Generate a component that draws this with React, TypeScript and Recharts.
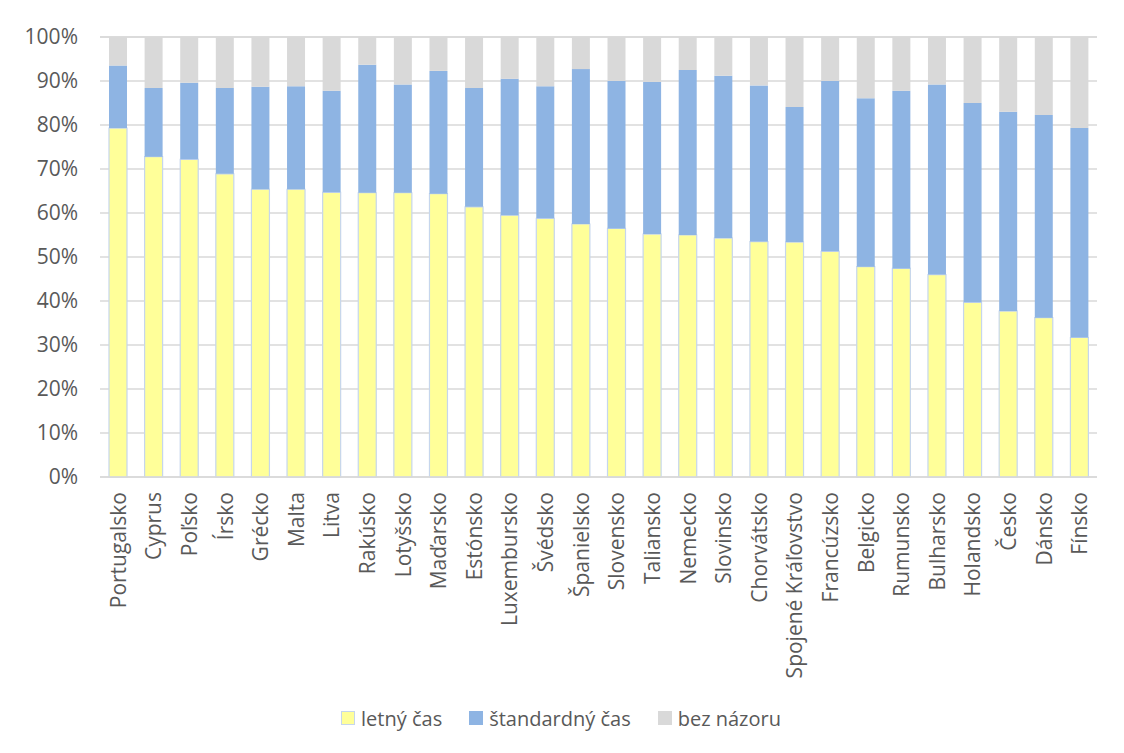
import React from "react";
import { BarChart, Bar, XAxis, YAxis, CartesianGrid, Legend } from "recharts";

// Countries, ordered by share preferring summer time
const countries = [
  "Portugalsko", "Cyprus", "Poľsko", "Írsko", "Grécko", "Malta", "Litva",
  "Rakúsko", "Lotyšsko", "Maďarsko", "Estónsko", "Luxembursko", "Švédsko",
  "Španielsko", "Slovensko", "Taliansko", "Nemecko", "Slovinsko", "Chorvátsko",
  "Spojené Kráľovstvo", "Francúzsko", "Belgicko", "Rumunsko", "Bulharsko",
  "Holandsko", "Česko", "Dánsko", "Fínsko",
];

// Shares in percent
const letnyCas = [
  79.3, 72.8, 72.2, 68.9, 65.4, 65.4, 64.7, 64.6, 64.6, 64.4, 61.4, 59.5, 58.8,
  57.5, 56.5, 55.2, 55.0, 54.3, 53.5, 53.4, 51.3, 47.8, 47.4, 46.0, 39.7, 37.7,
  36.2, 31.7,
];
const standardnyCas = [
  14.2, 15.6, 17.4, 19.5, 23.3, 23.4, 23.1, 29.1, 24.6, 27.9, 27.0, 31.0, 30.0,
  35.2, 33.5, 34.6, 37.5, 36.9, 35.5, 30.7, 38.7, 38.3, 40.4, 43.2, 45.3, 45.3,
  46.1, 47.6,
];
const bezNazoru = [
  6.5, 11.6, 10.4, 11.6, 11.3, 11.2, 12.2, 6.3, 10.8, 7.7, 11.6, 9.5, 11.2,
  7.3, 10.0, 10.2, 7.5, 8.8, 11.0, 15.9, 10.0, 13.9, 12.2, 10.8, 15.0, 17.0,
  17.7, 20.7,
];

const seriesNames = ["letný čas", "štandardný čas", "bez názoru"];
const yTicks = [0, 10, 20, 30, 40, 50, 60, 70, 80, 90, 100];

const data = countries.map((krajina, i) => ({
  krajina,
  letny: letnyCas[i],
  standardny: standardnyCas[i],
  bez: bezNazoru[i],
}));

const FONT = "'Open Sans', 'Noto Sans', sans-serif";
const TEXT = "#595959";
const GRID = "#d9d9d9";
const FS = 21;

const CountryTick = (props: any) => {
  const { x, y, payload } = props;
  return (
    <text
      x={x}
      y={y}
      transform={`rotate(-90, ${x}, ${y})`}
      textAnchor="end"
      dominantBaseline="central"
      fill={TEXT}
      fontSize={FS}
      fontFamily={FONT}
    >
      {payload.value}
    </text>
  );
};

const LegendContent = (props: any) => {
  const items = [...(props.payload || [])].sort(
    (a: any, b: any) => seriesNames.indexOf(a.value) - seriesNames.indexOf(b.value)
  );
  return (
    <div
      style={{
        display: "flex",
        justifyContent: "center",
        alignItems: "center",
        fontFamily: FONT,
        fontSize: 20,
        color: TEXT,
        height: 28,
        paddingLeft: 17,
      }}
    >
      {items.map((entry: any, i: number) => (
        <div
          key={entry.value}
          style={{
            display: "flex",
            alignItems: "center",
            marginRight: i < items.length - 1 ? 27 : 0,
          }}
        >
          <span
            style={{
              display: "inline-block",
              width: 12,
              height: 12,
              background: entry.color,
              border: i === 0 ? "1px solid #c6d6ec" : "1px solid " + entry.color,
              marginRight: 6,
            }}
          />
          <span>{entry.value}</span>
        </div>
      ))}
    </div>
  );
};

export default function App() {
  return (
    <div
      style={{
        width: 1116,
        height: 745,
        marginLeft: -2,
        marginTop: -2,
        borderLeft: `2px solid ${GRID}`,
        borderTop: `2px solid ${GRID}`,
        overflow: "hidden",
      }}
    >
      <BarChart
        width={1116}
        height={745}
        data={data}
        margin={{ top: 29, right: 27, bottom: 21, left: 0 }}
        barSize={18}
      >
        <CartesianGrid vertical={false} stroke={GRID} strokeWidth={1.3} />
        <XAxis
          dataKey="krajina"
          interval={0}
          height={227}
          tickLine={false}
          axisLine={{ stroke: GRID, strokeWidth: 1.3 }}
          tick={<CountryTick />}
          tickSize={0}
          tickMargin={15}
        />
        <YAxis
          width={92}
          domain={[0, 100]}
          ticks={yTicks}
          tickFormatter={(v: number) => `${v}%`}
          axisLine={false}
          tickLine={false}
          tickSize={0}
          tickMargin={22}
          tick={{ fill: TEXT, fontSize: FS, fontFamily: FONT }}
        />
        <Legend verticalAlign="bottom" content={<LegendContent />} />
        <Bar
          dataKey="letny"
          name="letný čas"
          stackId="a"
          fill="#ffff99"
          stroke="#c6d6ec"
          strokeWidth={1.2}
          isAnimationActive={false}
        />
        <Bar
          dataKey="standardny"
          name="štandardný čas"
          stackId="a"
          fill="#8eb4e3"
          isAnimationActive={false}
        />
        <Bar
          dataKey="bez"
          name="bez názoru"
          stackId="a"
          fill="#d9d9d9"
          isAnimationActive={false}
        />
      </BarChart>
    </div>
  );
}
